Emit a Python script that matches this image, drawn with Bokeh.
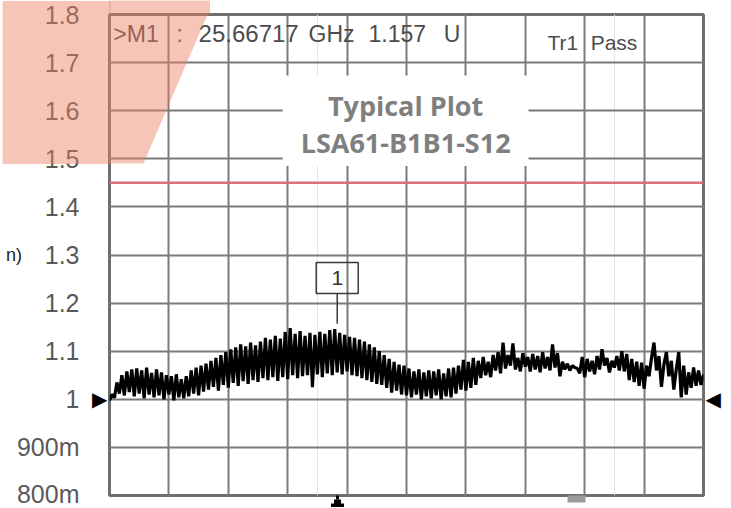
import numpy as np
from bokeh.plotting import figure
from bokeh.models import (Range1d, FixedTicker, Span, Label, BoxAnnotation,
                          PolyAnnotation, Grid, LinearAxis, ColumnDataSource)
from bokeh.embed import file_html
from bokeh.resources import INLINE

# ---------------- data ----------------
sweep_start_ghz = 18.0
sweep_stop_ghz = 38.0

trace_values = [
    0.998, 1.010, 1.003, 1.035, 1.012, 1.050, 1.008, 1.058, 1.015, 1.062,
    1.006, 1.064, 1.012, 1.060, 1.002, 1.066, 1.010, 1.055, 1.004, 1.062,
    1.008, 1.056, 1.000, 1.050, 1.010, 1.048, 0.998, 1.052, 1.004, 1.042,
    1.002, 1.048, 1.006, 1.060, 1.012, 1.066, 1.008, 1.070, 1.016, 1.074,
    1.020, 1.080, 1.026, 1.086, 1.018, 1.092, 1.030, 1.098, 1.024, 1.104,
    1.034, 1.108, 1.028, 1.114, 1.038, 1.110, 1.032, 1.118, 1.040, 1.112,
    1.036, 1.120, 1.044, 1.128, 1.040, 1.124, 1.046, 1.132, 1.038, 1.126,
    1.046, 1.140, 1.042, 1.148, 1.050, 1.136, 1.044, 1.142, 1.048, 1.132,
    1.050, 1.138, 1.025, 1.134, 1.052, 1.140, 1.046, 1.136, 1.054, 1.144,
    1.050, 1.146, 1.056, 1.138, 1.052, 1.134, 1.058, 1.130, 1.050, 1.128,
    1.048, 1.124, 1.044, 1.120, 1.040, 1.114, 1.036, 1.108, 1.032, 1.100,
    1.030, 1.092, 1.024, 1.084, 1.014, 1.078, 1.018, 1.072, 1.010, 1.070,
    1.008, 1.064, 1.004, 1.058, 1.010, 1.062, 1.000, 1.056, 1.006, 1.060,
    1.002, 1.058, 1.008, 1.062, 1.000, 1.054, 1.006, 1.064, 1.004, 1.066,
    1.012, 1.070, 1.020, 1.082, 1.018, 1.078, 1.024, 1.086, 1.030, 1.080,
    1.044, 1.088, 1.050, 1.078, 1.046, 1.092, 1.060, 1.098, 1.054, 1.118,
    1.064, 1.092, 1.070, 1.116, 1.062, 1.086, 1.058, 1.096, 1.068, 1.088,
    1.058, 1.094, 1.062, 1.090, 1.056, 1.098, 1.064, 1.088, 1.060, 1.114,
    1.066, 1.096, 1.048, 1.078, 1.062, 1.074, 1.060, 1.070, 1.066, 1.064,
    1.054, 1.088, 1.046, 1.084, 1.058, 1.080, 1.052, 1.090, 1.062, 1.104,
    1.070, 1.086, 1.056, 1.080, 1.066, 1.090, 1.060, 1.100, 1.058, 1.094,
    1.040, 1.084, 1.036, 1.078, 1.028, 1.076, 1.022, 1.070, 1.048, 1.086,
    1.118, 1.060, 1.090, 1.026, 1.072, 1.098, 1.048, 1.080, 1.020, 1.062,
    1.098, 1.004, 1.070, 1.010, 1.056, 1.024, 1.066, 1.028, 1.060, 1.030, 1.052,
]

marker_freq = 25.66717
marker_value = 1.157
marker_name = "1"
limit_value = 1.45
reference_value = 1.0
stimulus_bar_freq = 33.72

ytick_values = [0.8, 0.9, 1.0, 1.1, 1.2, 1.3, 1.4, 1.5, 1.6, 1.7, 1.8]
ytick_labels = ["800m", "900m", "1", "1.1", "1.2", "1.3", "1.4", "1.5", "1.6", "1.7", "1.8"]
xgrid_values = [18, 20, 22, 24, 26, 28, 30, 32, 34, 36, 38]

header_marker = ">M1"
header_sep = ":"
header_freq = "25.66717"
header_unit = "GHz"
header_value = "1.157"
header_vunit = "U"
header_trace = "Tr1"
header_status = "Pass"
title_lines = ["Typical Plot", "LSA61-B1B1-S12"]
side_text = "n)"

# ---------------- figure ----------------
freqs = np.linspace(sweep_start_ghz, sweep_stop_ghz, len(trace_values))
src = ColumnDataSource(dict(f=freqs, v=trace_values))

p = figure(width=730, height=507, output_backend="svg", toolbar_location=None,
           x_range=Range1d(sweep_start_ghz, sweep_stop_ghz), y_range=Range1d(0.8, 1.8),
           x_axis_location=None, y_axis_location=None,
           min_border_left=109, min_border_right=27, min_border_top=14, min_border_bottom=12)
p.background_fill_color = "white"
p.border_fill_color = "white"
p.outline_line_color = "#6e6e6e"
p.outline_line_width = 3

SALMON = "#ee7f5f"
SALMON_ALPHA = 0.45
GRID = "#7a7a7a"

def bare_axis(ax, labels=True):
    ax.axis_line_color = None
    ax.major_tick_line_color = None
    ax.major_tick_out = 0
    ax.major_tick_in = 0
    ax.minor_tick_line_color = None
    ax.minor_tick_out = 0
    ax.minor_tick_in = 0
    if not labels:
        ax.major_label_text_font_size = "0px"
        ax.major_label_standoff = 0
    return ax

yt = FixedTicker(ticks=ytick_values)
p.add_layout(Grid(dimension=1, ticker=yt, grid_line_color=GRID, grid_line_width=2))
p.add_layout(Grid(dimension=0, ticker=FixedTicker(ticks=xgrid_values),
                  grid_line_color=GRID, grid_line_width=2))

# ---- left side: arrow axis (inner), value axis, overlay band (outer) ----
tri_left = bare_axis(LinearAxis(ticker=FixedTicker(ticks=[reference_value])))
tri_left.major_label_overrides = {reference_value: "\u25B6"}
tri_left.major_label_standoff = 2
tri_left.major_label_text_font = "DejaVu Sans"
tri_left.major_label_text_font_size = "20px"
tri_left.major_label_text_color = "black"
p.add_layout(tri_left, "left")

yaxis = bare_axis(LinearAxis(ticker=yt))
yaxis.major_label_overrides = dict(zip(ytick_values, ytick_labels))
yaxis.major_label_standoff = 10
yaxis.major_label_text_font = "Liberation Sans"
yaxis.major_label_text_font_size = "25px"
yaxis.major_label_text_color = "#5a5a5a"
yaxis.axis_label = side_text
yaxis.axis_label_orientation = "horizontal"
yaxis.axis_label_standoff = -8
yaxis.axis_label_text_font = "Liberation Sans"
yaxis.axis_label_text_font_style = "normal"
yaxis.axis_label_text_font_size = "18px"
yaxis.axis_label_text_color = "#222222"
p.add_layout(yaxis, "left")

band_left = bare_axis(LinearAxis(ticker=FixedTicker(ticks=[], minor_ticks=[1.6594])), labels=False)
band_left.minor_tick_line_color = SALMON
band_left.minor_tick_line_alpha = SALMON_ALPHA
band_left.minor_tick_line_width = 163
band_left.minor_tick_out = 0
band_left.minor_tick_in = 108
p.add_layout(band_left, "left")

# ---- right reference-level arrow ----
tri_right = bare_axis(LinearAxis(ticker=FixedTicker(ticks=[reference_value])))
tri_right.major_label_overrides = {reference_value: "\u25C0"}
tri_right.major_label_standoff = 2
tri_right.major_label_text_font = "DejaVu Sans"
tri_right.major_label_text_font_size = "20px"
tri_right.major_label_text_color = "black"
p.add_layout(tri_right, "right")

# ---- overlay strip above the frame ----
top_ax = bare_axis(LinearAxis(ticker=FixedTicker(ticks=[], minor_ticks=[19.70])), labels=False)
top_ax.minor_tick_line_color = SALMON
top_ax.minor_tick_line_alpha = SALMON_ALPHA
top_ax.minor_tick_line_width = 101
top_ax.minor_tick_out = 14
p.add_layout(top_ax, "above")

# ---- below the frame: marker arrow (stepped) and stimulus bar ----
tip_ax = bare_axis(LinearAxis(ticker=FixedTicker(ticks=[], minor_ticks=[marker_freq])), labels=False)
tip_ax.minor_tick_line_color = "black"
tip_ax.minor_tick_line_width = 3
tip_ax.minor_tick_in = -4
p.add_layout(tip_ax, "below")

bar_ax = bare_axis(LinearAxis(ticker=FixedTicker(ticks=[], minor_ticks=[stimulus_bar_freq])), labels=False)
bar_ax.minor_tick_line_color = "#9a9a9a"
bar_ax.minor_tick_line_width = 18
bar_ax.minor_tick_in = -7
p.add_layout(bar_ax, "below")

arrow_ax = bare_axis(LinearAxis(ticker=FixedTicker(ticks=[marker_freq], minor_ticks=[marker_freq])), labels=False)
arrow_ax.major_label_overrides = {marker_freq: ""}
arrow_ax.major_tick_line_color = "black"
arrow_ax.major_tick_line_width = 7
arrow_ax.major_tick_in = -4
arrow_ax.major_tick_out = 12
arrow_ax.minor_tick_line_color = "black"
arrow_ax.minor_tick_line_width = 13
arrow_ax.minor_tick_in = -8
arrow_ax.minor_tick_out = 12
p.add_layout(arrow_ax, "below")

# ---- trace ----
p.line("f", "v", source=src, line_color="black", line_width=3.2)

# limit line
p.add_layout(Span(location=limit_value, dimension="width", line_color="#d9707c", line_width=2.5))

# marker
box_dy = 0.095
p.rect(x=[marker_freq], y=[marker_value + box_dy], width=42, height=31,
       width_units="screen", height_units="screen", fill_color=None,
       line_color="#3a3a3a", line_width=1.5)
p.segment(x0=[marker_freq], y0=[marker_value], x1=[marker_freq], y1=[marker_value + box_dy - 0.0323],
          line_color="#3a3a3a", line_width=1.5)
p.add_layout(Label(x=marker_freq, y=marker_value + box_dy, text=marker_name, text_align="center",
                   text_baseline="middle", text_font="Liberation Sans", text_font_size="21px",
                   text_color="#333333"))

# header texts
hdr = dict(text_font="Liberation Sans", text_color="#4c4c4c", text_baseline="middle")
for txt, x, y, fs in [(header_marker, 18.13, 1.760, "23px"), (header_sep, 20.26, 1.760, "23px"),
                      (header_freq, 21.0, 1.760, "24px"), (header_unit, 24.70, 1.760, "23px"),
                      (header_value, 26.72, 1.760, "23px"), (header_vunit, 29.25, 1.760, "23px"),
                      (header_trace, 32.75, 1.742, "21px"), (header_status, 34.20, 1.742, "21px")]:
    p.add_layout(Label(x=x, y=y, text=txt, text_font_size=fs, **hdr))

# title box
p.add_layout(BoxAnnotation(left=23.83, right=32.11, bottom=1.485, top=1.673,
                           fill_color="white", fill_alpha=1.0, line_color=None))
for txt, y in zip(title_lines, [1.610, 1.533]):
    p.add_layout(Label(x=27.97, y=y, text=txt, text_align="center", text_baseline="middle",
                       text_font="Open Sans", text_font_style="bold", text_font_size="27px",
                       text_color="#7f7f7f"))

# salmon overlay inside the frame
p.add_layout(PolyAnnotation(xs=[0, 213, 143, 0], ys=[0, 0, 163, 163],
                            xs_units="canvas", ys_units="canvas",
                            fill_color=SALMON, fill_alpha=SALMON_ALPHA, line_color=None))

open("out.html", "w").write(file_html(p, INLINE))
